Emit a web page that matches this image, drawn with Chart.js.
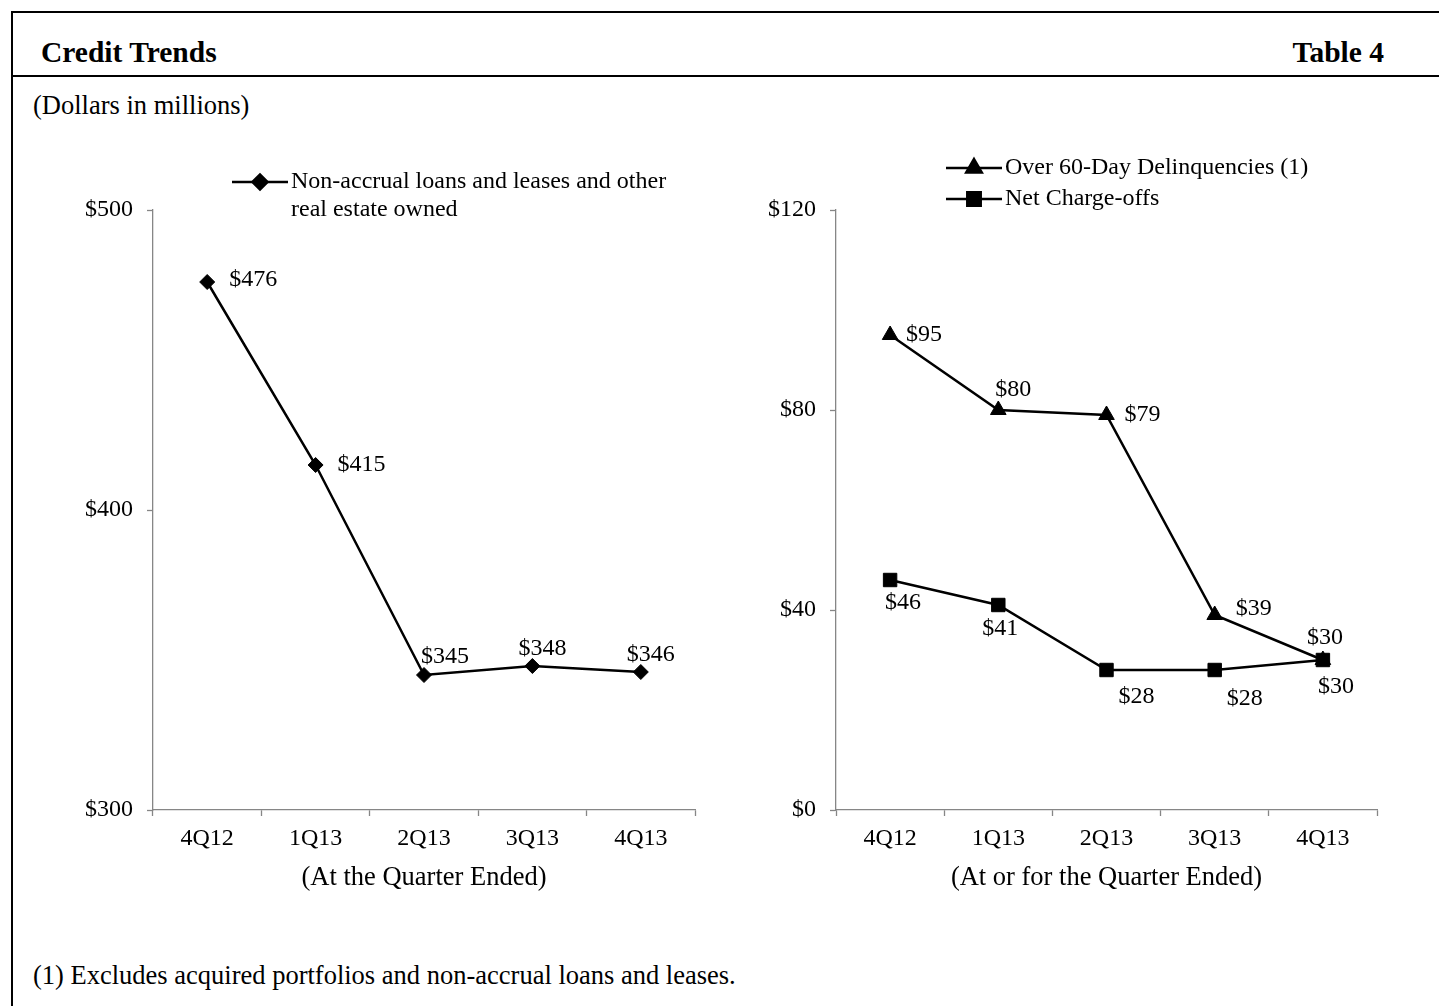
<!DOCTYPE html>
<html>
<head>
<meta charset="utf-8">
<title>Credit Trends</title>
<script src="https://cdn.jsdelivr.net/npm/chart.js@4/dist/chart.umd.min.js"></script>
<style>
  html, body { margin: 0; padding: 0; background: #fff; }
  body { width: 1439px; height: 1006px; overflow: hidden; position: relative;
         font-family: "Liberation Serif", "Times New Roman", serif; color: #000; }
  .frame { position: absolute; left: 11px; top: 11px; width: 1500px; height: 1100px;
           border-top: 2px solid #000; border-left: 2px solid #000; }
  .rule { position: absolute; left: 11px; top: 75px; width: 1440px; height: 2px; background: #000; }
  .head { position: absolute; top: 35px; line-height: 34px; font-size: 29.5px; font-weight: bold; white-space: nowrap; }
  .note { position: absolute; left: 33px; line-height: 32px; font-size: 26.5px; white-space: nowrap; }
  canvas { position: absolute; }
</style>
</head>
<body>
<div class="frame"></div>
<div class="rule"></div>
<div class="head" style="left:41px;">Credit Trends</div>
<div class="head" style="right:55px;">Table 4</div>
<div class="note" style="top:89px;">(Dollars in millions)</div>
<canvas id="leftChart" width="700" height="780" style="left:60px;top:140px;"></canvas>
<canvas id="rightChart" width="679" height="780" style="left:760px;top:140px;"></canvas>
<div class="note" style="top:959px;">(1) Excludes acquired portfolios and non-accrual loans and leases.</div>

<script>
// Quarter categories shared by both panels
const quarters = ['4Q12', '1Q13', '2Q13', '3Q13', '4Q13'];

// Left panel: non-accrual loans and leases and other real estate owned ($ millions)
const nonAccrual = [476, 415, 345, 348, 346];
const leftTickValues = [300, 400, 500];

// Right panel ($ millions)
const delinquencies = [95, 80, 79, 39, 30];
const chargeOffs = [46, 41, 28, 28, 30];
const rightTickValues = [0, 40, 80, 120];

const SERIF = '"Liberation Serif", "Times New Roman", serif';
const AXIS_GREY = '#868686';

// Writes "$value" next to every point; offsets come from the plugin options
const valueLabels = {
  id: 'valueLabels',
  afterDatasetsDraw(chart, args, opts) {
    const ctx = chart.ctx;
    ctx.save();
    ctx.font = opts.font;
    ctx.fillStyle = opts.color;
    ctx.textAlign = 'center';
    ctx.textBaseline = 'middle';
    chart.data.datasets.forEach((ds, i) => {
      const meta = chart.getDatasetMeta(i);
      const offs = opts.offsets[i];
      meta.data.forEach((pt, j) => {
        const [dx, dy] = offs[j];
        ctx.fillText('$' + ds.data[j], pt.x + dx, pt.y + dy);
      });
    });
    ctx.restore();
  }
};

// Legend with a line sample and the series marker, text wrapped to maxWidth
const lineLegend = {
  id: 'lineLegend',
  afterDraw(chart, args, opts) {
    const ctx = chart.ctx;
    ctx.save();
    ctx.font = opts.font;
    ctx.textAlign = 'left';
    ctx.textBaseline = 'middle';
    let row = 0;
    chart.data.datasets.forEach(ds => {
      const words = ds.label.split(' ');
      const lines = [];
      let cur = '';
      words.forEach(w => {
        const test = cur ? cur + ' ' + w : w;
        if (ctx.measureText(test).width > opts.maxWidth && cur) { lines.push(cur); cur = w; }
        else cur = test;
      });
      if (cur) lines.push(cur);
      const cy = opts.y + row * opts.rowHeight;
      ctx.strokeStyle = ds.borderColor;
      ctx.lineWidth = ds.borderWidth;
      ctx.beginPath();
      ctx.moveTo(opts.x, cy);
      ctx.lineTo(opts.x + opts.lineLength, cy);
      ctx.stroke();
      ctx.fillStyle = ds.pointBackgroundColor;
      ctx.strokeStyle = ds.pointBorderColor;
      Chart.helpers.drawPoint(ctx, {
        pointStyle: ds.pointStyle, radius: ds.pointRadius, rotation: 0, borderWidth: ds.pointBorderWidth
      }, opts.x + opts.lineLength / 2, cy);
      ctx.fillStyle = '#000';
      lines.forEach((ln, k) => {
        ctx.fillText(ln, opts.x + opts.lineLength + opts.gap, cy + k * opts.rowHeight);
      });
      row += lines.length;
    });
    ctx.restore();
  }
};

function series(label, data, style, radius) {
  return {
    label, data,
    borderColor: '#000', borderWidth: 2.5, tension: 0,
    pointStyle: style, pointRadius: radius, pointHoverRadius: radius,
    pointBackgroundColor: '#000', pointBorderColor: '#000', pointBorderWidth: 1,
    fill: false
  };
}

function xScale(title) {
  return {
    type: 'category',
    offset: true,
    border: { display: true, color: AXIS_GREY, width: 1.3 },
    grid: { display: true, drawOnChartArea: false, drawTicks: true, tickLength: 6,
            tickColor: AXIS_GREY, tickWidth: 1.3, offset: true },
    ticks: { color: '#000', font: { family: SERIF, size: 24 }, padding: 8, maxRotation: 0, autoSkip: false },
    title: { display: true, text: title, color: '#000', font: { family: SERIF, size: 26.5 },
             padding: { top: 0, bottom: 26 } },
    afterFit(scale) { scale.height = 110; }
  };
}

function yScale(values, width) {
  return {
    type: 'linear',
    min: values[0],
    max: values[values.length - 1],
    border: { display: true, color: AXIS_GREY, width: 1.3 },
    grid: { display: true, drawOnChartArea: false, drawTicks: true, tickLength: 6,
            tickColor: AXIS_GREY, tickWidth: 1.3 },
    ticks: { color: '#000', font: { family: SERIF, size: 24 }, padding: 14,
             callback: v => '$' + v },
    afterBuildTicks(scale) { scale.ticks = values.map(v => ({ value: v })); },
    afterFit(scale) { scale.width = width; }
  };
}

const common = {
  responsive: false,
  animation: false,
  devicePixelRatio: 1,
  events: []
};

new Chart(document.getElementById('leftChart'), {
  type: 'line',
  data: {
    labels: quarters,
    datasets: [
      series('Non-accrual loans and leases and other real estate owned', nonAccrual, 'rectRot', 7.5)
    ]
  },
  options: {
    ...common,
    layout: { padding: { top: 70, right: 65, left: 0, bottom: 0 } },
    scales: {
      x: xScale('(At the Quarter Ended)'),
      y: yScale(leftTickValues, 93)
    },
    plugins: {
      legend: { display: false },
      tooltip: { enabled: false },
      valueLabels: {
        font: '24px ' + SERIF, color: '#000',
        offsets: [[[46, -2], [46, 0], [21, -18], [10, -17], [10, -17]]]
      },
      lineLegend: {
        x: 172, y: 42, lineLength: 56, gap: 3, rowHeight: 28, maxWidth: 400,
        font: '24px ' + SERIF
      }
    }
  },
  plugins: [valueLabels, lineLegend]
});

new Chart(document.getElementById('rightChart'), {
  type: 'line',
  data: {
    labels: quarters,
    datasets: [
      series('Over 60-Day Delinquencies (1)', delinquencies, 'triangle', 9),
      series('Net Charge-offs', chargeOffs, 'rect', 9.5)
    ]
  },
  options: {
    ...common,
    layout: { padding: { top: 70, right: 62, left: 0, bottom: 0 } },
    scales: {
      x: xScale('(At or for the Quarter Ended)'),
      y: yScale(rightTickValues, 76)
    },
    plugins: {
      legend: { display: false },
      tooltip: { enabled: false },
      valueLabels: {
        font: '24px ' + SERIF, color: '#000',
        offsets: [
          [[34, 0], [15, -20], [36, 0], [39, -6], [2, -22]],
          [[13, 23], [2, 24], [30, 27], [30, 29], [13, 27]]
        ]
      },
      lineLegend: {
        x: 186, y: 28, lineLength: 56, gap: 3, rowHeight: 31, maxWidth: 420,
        font: '24px ' + SERIF
      }
    }
  },
  plugins: [valueLabels, lineLegend]
});
</script>
</body>
</html>
